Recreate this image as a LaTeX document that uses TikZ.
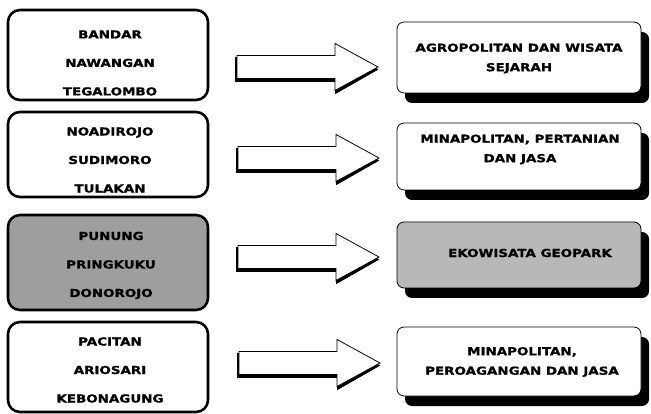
\documentclass[tikz,border=0pt]{standalone}
\usepackage{fontspec}
\newfontfamily\heavyfont{DejaVu Sans Bold}[FakeStretch=1.22, FakeBold=1.2]
\usetikzlibrary{shadows}
\tikzset{
  leftbox/.style={draw=black, line width=2.6pt, rounded corners=12pt, fill=white,
    minimum width=200pt, inner sep=0pt},
  leftgray/.style={leftbox, fill=black!38},
  lefttext/.style={align=center, inner sep=0pt,
    font=\fontsize{11}{28.5}\selectfont\heavyfont},
  rightbox/.style={draw=black, line width=0.8pt, rounded corners=7pt, fill=white,
    minimum width=244pt, inner sep=0pt,
    drop shadow={shadow xshift=8pt, shadow yshift=-10pt, fill=black, opacity=1}},
  rightgray/.style={rightbox, fill=black!28},
  righttext/.style={align=center, inner sep=0pt,
    font=\fontsize{11}{19.5}\selectfont\heavyfont},
  arrowshadow/.style={fill=black, draw=black, line width=0.8pt},
  arrowbody/.style={fill=white, draw=black, line width=0.8pt},
  pics/blockarrow/.style={code={
    \fill[arrowshadow] (-1.5,-9.5) -- (98.5,-9.5) -- (98.5,-21.5) -- (140.5,2.5)
      -- (98.5,26.5) -- (98.5,14.5) -- (-1.5,14.5) -- cycle;
    \filldraw[arrowbody] (0,-11.5) -- (98,-11.5) -- (98,-23.5) -- (141,0)
      -- (98,23.5) -- (98,11.5) -- (0,11.5) -- cycle;
  }}
}
\begin{document}
\begin{tikzpicture}[x=1pt, y=-1pt]
\useasboundingbox[fill=white] (0,0) rectangle (651,414);

% left boxes
\node[leftbox, minimum height=90pt] (L1) at (108,55) {};
\node[leftbox, minimum height=85pt] (L2) at (108,154.5) {};
\node[leftgray, minimum height=95pt] (L3) at (108,262.5) {};
\node[leftbox, minimum height=90pt] (L4) at (108,367) {};

\node[lefttext] (T1) at (110,63) {BANDAR\\NAWANGAN\\TEGALOMBO};
\node[lefttext] (T2) at (110,160) {NOADIROJO\\SUDIMORO\\TULAKAN};
\node[lefttext] (T3) at (111,265.5) {PUNUNG\\PRINGKUKU\\DONOROJO};
\node[lefttext] (T4) at (110,370) {PACITAN\\ARIOSARI\\KEBONAGUNG};

% right boxes
\node[rightbox, minimum height=71pt] (R1) at (519,57.5) {};
\node[rightbox, minimum height=67pt] (R2) at (519,156.5) {};
\node[rightgray, minimum height=66pt] (R3) at (519,255) {};
\node[rightbox, minimum height=69pt] (R4) at (519,361.5) {};

\node[righttext] (S1) at (519,58.5) {AGROPOLITAN DAN WISATA\\SEJARAH};
\node[righttext] (S2) at (520,149.5) {MINAPOLITAN, PERTANIAN\\DAN JASA};
\node[righttext] (S3) at (530,253) {EKOWISATA GEOPARK};
\node[righttext] (S4) at (522,362) {MINAPOLITAN,\\PEROAGANGAN DAN JASA};

% block arrows
\pic at (237,67) {blockarrow};
\pic at (238,158) {blockarrow};
\pic at (238,257) {blockarrow};
\pic at (239,363) {blockarrow};
\end{tikzpicture}
\end{document}
